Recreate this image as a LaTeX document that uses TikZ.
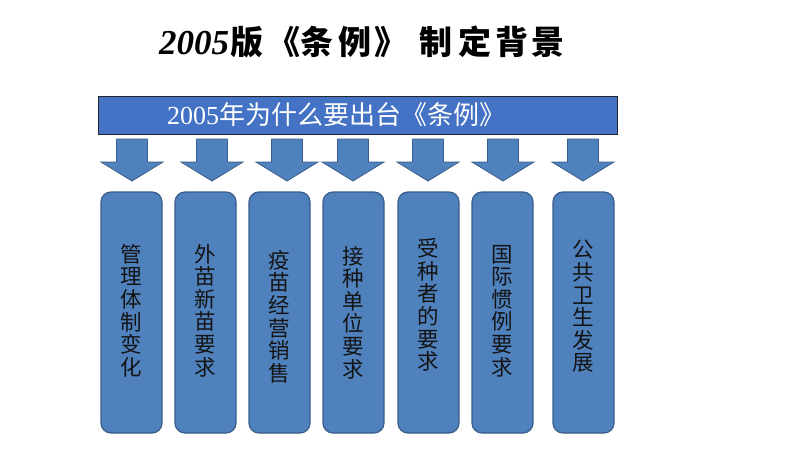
\documentclass[tikz,border=0pt]{standalone}
\usepackage{fontspec}
\setmainfont{Liberation Serif}
\newfontfamily\cjk{Noto Sans CJK SC}
\newfontfamily\tnr{Liberation Serif}
\definecolor{bannerblue}{RGB}{68,114,196}
\definecolor{boxblue}{RGB}{79,129,189}
\definecolor{boxedge}{RGB}{56,93,138}
\definecolor{txtdark}{RGB}{20,20,20}
\begin{document}
\begin{tikzpicture}[x=1pt,y=-1pt,
  boxstyle/.style={draw=boxedge, line width=1.2pt, fill=boxblue, rounded corners=10pt,
    minimum width=61pt, minimum height=241pt, inner sep=0pt},
  arrowstyle/.style={draw=boxedge, line width=0.8pt, fill=boxblue, line join=miter},
  vtext/.style={font=\cjk\fontsize{21.5}{22.6}\selectfont, text=txtdark, align=center, inner sep=0pt},
  bannerstyle/.style={draw=black!85, line width=1pt, fill=bannerblue, minimum width=519pt,
    minimum height=38pt, inner sep=0pt},
]
\fill[white] (0,0) rectangle (800,450);
\useasboundingbox (0,0) rectangle (800,450);

% title
\node[anchor=west, inner sep=0pt] (title) at (159,42)
  {{\tnr\bfseries\itshape\fontsize{35}{35}\selectfont 2005}\kern1pt{\cjk\bfseries\fontsize{33}{33}\selectfont 版\kern4pt《\kern0pt条\kern5pt例\kern3pt》\kern12pt制\kern6pt定\kern4pt背\kern3pt景}};

% banner
\node[bannerstyle] (banner) at (357.5,115.5) {};
\node[anchor=west, inner sep=0pt, text=white] (bannertext) at (167,115)
  {{\tnr\fontsize{26}{26}\selectfont 2005}{\cjk\fontsize{26}{26}\selectfont 年为什么要出台《条例》}};

% block arrows
\foreach \x in {132,212,287,353,428,503,583}
  \draw[arrowstyle] (\x-15.5,139) -- (\x+15.5,139) -- (\x+15.5,162) -- (\x+31,162)
    -- (\x,181) -- (\x-31,162) -- (\x-15.5,162) -- cycle;

% boxes
\node[boxstyle] (b1) at (131.5,312.5) {};
\node[boxstyle] (b2) at (205.5,312.5) {};
\node[boxstyle] (b3) at (279.5,312.5) {};
\node[boxstyle] (b4) at (353.5,312.5) {};
\node[boxstyle] (b5) at (428.5,312.5) {};
\node[boxstyle] (b6) at (502.5,312.5) {};
\node[boxstyle] (b7) at (583.5,312.5) {};

\node[vtext] (t1) at (131.5,310.5) {管\\理\\体\\制\\变\\化};
\node[vtext] (t2) at (205.5,310.5) {外\\苗\\新\\苗\\要\\求};
\node[vtext] (t3) at (279.5,316.5) {疫\\苗\\经\\营\\销\\售};
\node[vtext] (t4) at (353.5,312.5) {接\\种\\单\\位\\要\\求};
\node[vtext] (t5) at (428.5,305) {受\\种\\者\\的\\要\\求};
\node[vtext] (t6) at (502.5,311) {国\\际\\惯\\例\\要\\求};
\node[vtext] (t7) at (583.5,306.5) {公\\共\\卫\\生\\发\\展};
\end{tikzpicture}
\end{document}
